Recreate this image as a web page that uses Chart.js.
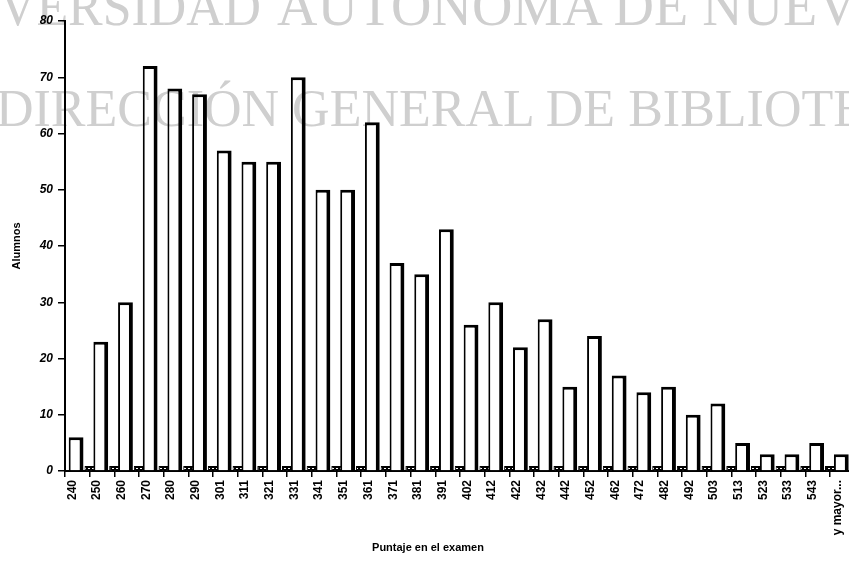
<!DOCTYPE html>
<html><head><meta charset="utf-8">
<script src="https://cdn.jsdelivr.net/npm/chart.js@4/dist/chart.umd.min.js"></script>
<style>
html,body{margin:0;padding:0;background:#fff;overflow:hidden;width:849px;height:563px}
#wrap{position:absolute;left:0;top:0;width:860px;height:563px}
#wm{position:absolute;left:0;top:0;width:849px;height:563px;mix-blend-mode:multiply;pointer-events:none}
#xt{position:absolute;left:428px;top:541px;transform:translateX(-50%);font:bold 11px "Liberation Sans",Arial,sans-serif;color:#000;white-space:nowrap}
</style></head><body>
<div id="wrap"><canvas id="c"></canvas></div>
<div id="xt">Puntaje en el examen</div>
<svg id="wm" width="849" height="563" xmlns="http://www.w3.org/2000/svg">
<text x="-1" y="25" font-family="Liberation Serif" font-size="54" fill="#cfcfcf" textLength="262" lengthAdjust="spacingAndGlyphs">VERSIDAD</text>
<text x="277" y="25" font-family="Liberation Serif" font-size="56" fill="#cfcfcf">AUTONOMA DE NUEVO</text>
<text x="-4" y="126" font-family="Liberation Serif" font-size="52" fill="#cfcfcf">DIRECCIÓN GENERAL DE BIBLIOTECAS</text>
</svg>
<script>
const categories = ['240','250','260','270','280','290','301','311','321','331','341','351','361','371','381','391','402','412','422','432','442','452','462','472','482','492','503','513','523','533','543','y mayor...'];
const alumnos = [6,23,30,72,68,67,57,55,55,70,50,50,62,37,35,43,26,30,22,27,15,24,17,14,15,10,12,5,3,3,5,3];
const serie2 = [0.9,0.9,0.9,0.9,0.9,0.9,0.9,0.9,0.9,0.9,0.9,0.9,0.9,0.9,0.9,0.9,0.9,0.9,0.9,0.9,0.9,0.9,0.9,0.9,0.9,0.9,0.9,0.9,0.9,0.9,0.9,0.9];
const yTicks = [0,10,20,30,40,50,60,70,80];

const pc = document.createElement('canvas'); pc.width = 4; pc.height = 4;
const px = pc.getContext('2d');
px.fillStyle = '#000'; px.fillRect(0,0,4,4);
px.fillStyle = '#fff'; px.fillRect(0,0,2,1); px.fillRect(2,2,2,1);
const pattern = px.createPattern(pc, 'repeat');

new Chart(document.getElementById('c'), {
  type: 'bar',
  data: {
    labels: categories,
    datasets: [
      { label: 'Alumnos', data: alumnos, backgroundColor: '#fff', borderColor: '#000',
        borderWidth: {top: 3, right: 4, left: 2, bottom: 0}, borderSkipped: 'bottom',
        categoryPercentage: 0.2, barPercentage: 6 },
      { label: 'Serie 2', data: serie2, backgroundColor: pattern, borderColor: '#000',
        borderWidth: 1, borderSkipped: 'bottom',
        categoryPercentage: 2, barPercentage: 0.42 }
    ]
  },
  options: {
    responsive: true, maintainAspectRatio: false, animation: false, devicePixelRatio: 1,
    layout: { padding: { top: 21, right: 3, left: 0, bottom: 0 } },
    plugins: { legend: { display: false }, tooltip: { enabled: false } },
    scales: {
      x: {
        offset: true,
        grid: { offset: true, drawOnChartArea: false, drawTicks: true, tickLength: 6, color: '#000', lineWidth: 1.5 },
        border: { display: true, color: '#000', width: 2 },
        ticks: { autoSkip: false, minRotation: 90, maxRotation: 90, color: '#000', padding: 3, labelOffset: -5,
                 font: { family: 'Liberation Sans', weight: 'bold', size: 12 } },
        title: { display: false },
        afterFit(s) { s.height = 92; }
      },
      y: {
        min: 0, max: 80,
        afterBuildTicks(s) { s.ticks = yTicks.map(v => ({ value: v })); },
        grid: { drawOnChartArea: false, drawTicks: true, tickLength: 7, color: '#000', lineWidth: 1.5 },
        border: { display: true, color: '#000', width: 2 },
        ticks: { color: '#000', padding: 5, font: { family: 'Liberation Sans', weight: 'bold', style: 'italic', size: 12 } },
        title: { display: true, text: 'Alumnos', color: '#000',
                 font: { family: 'Liberation Sans', weight: 'bold', size: 11 }, padding: { top: 10, bottom: 0 } },
        afterFit(s) { s.width = 65; }
      }
    }
  }
});
</script>
</body></html>
